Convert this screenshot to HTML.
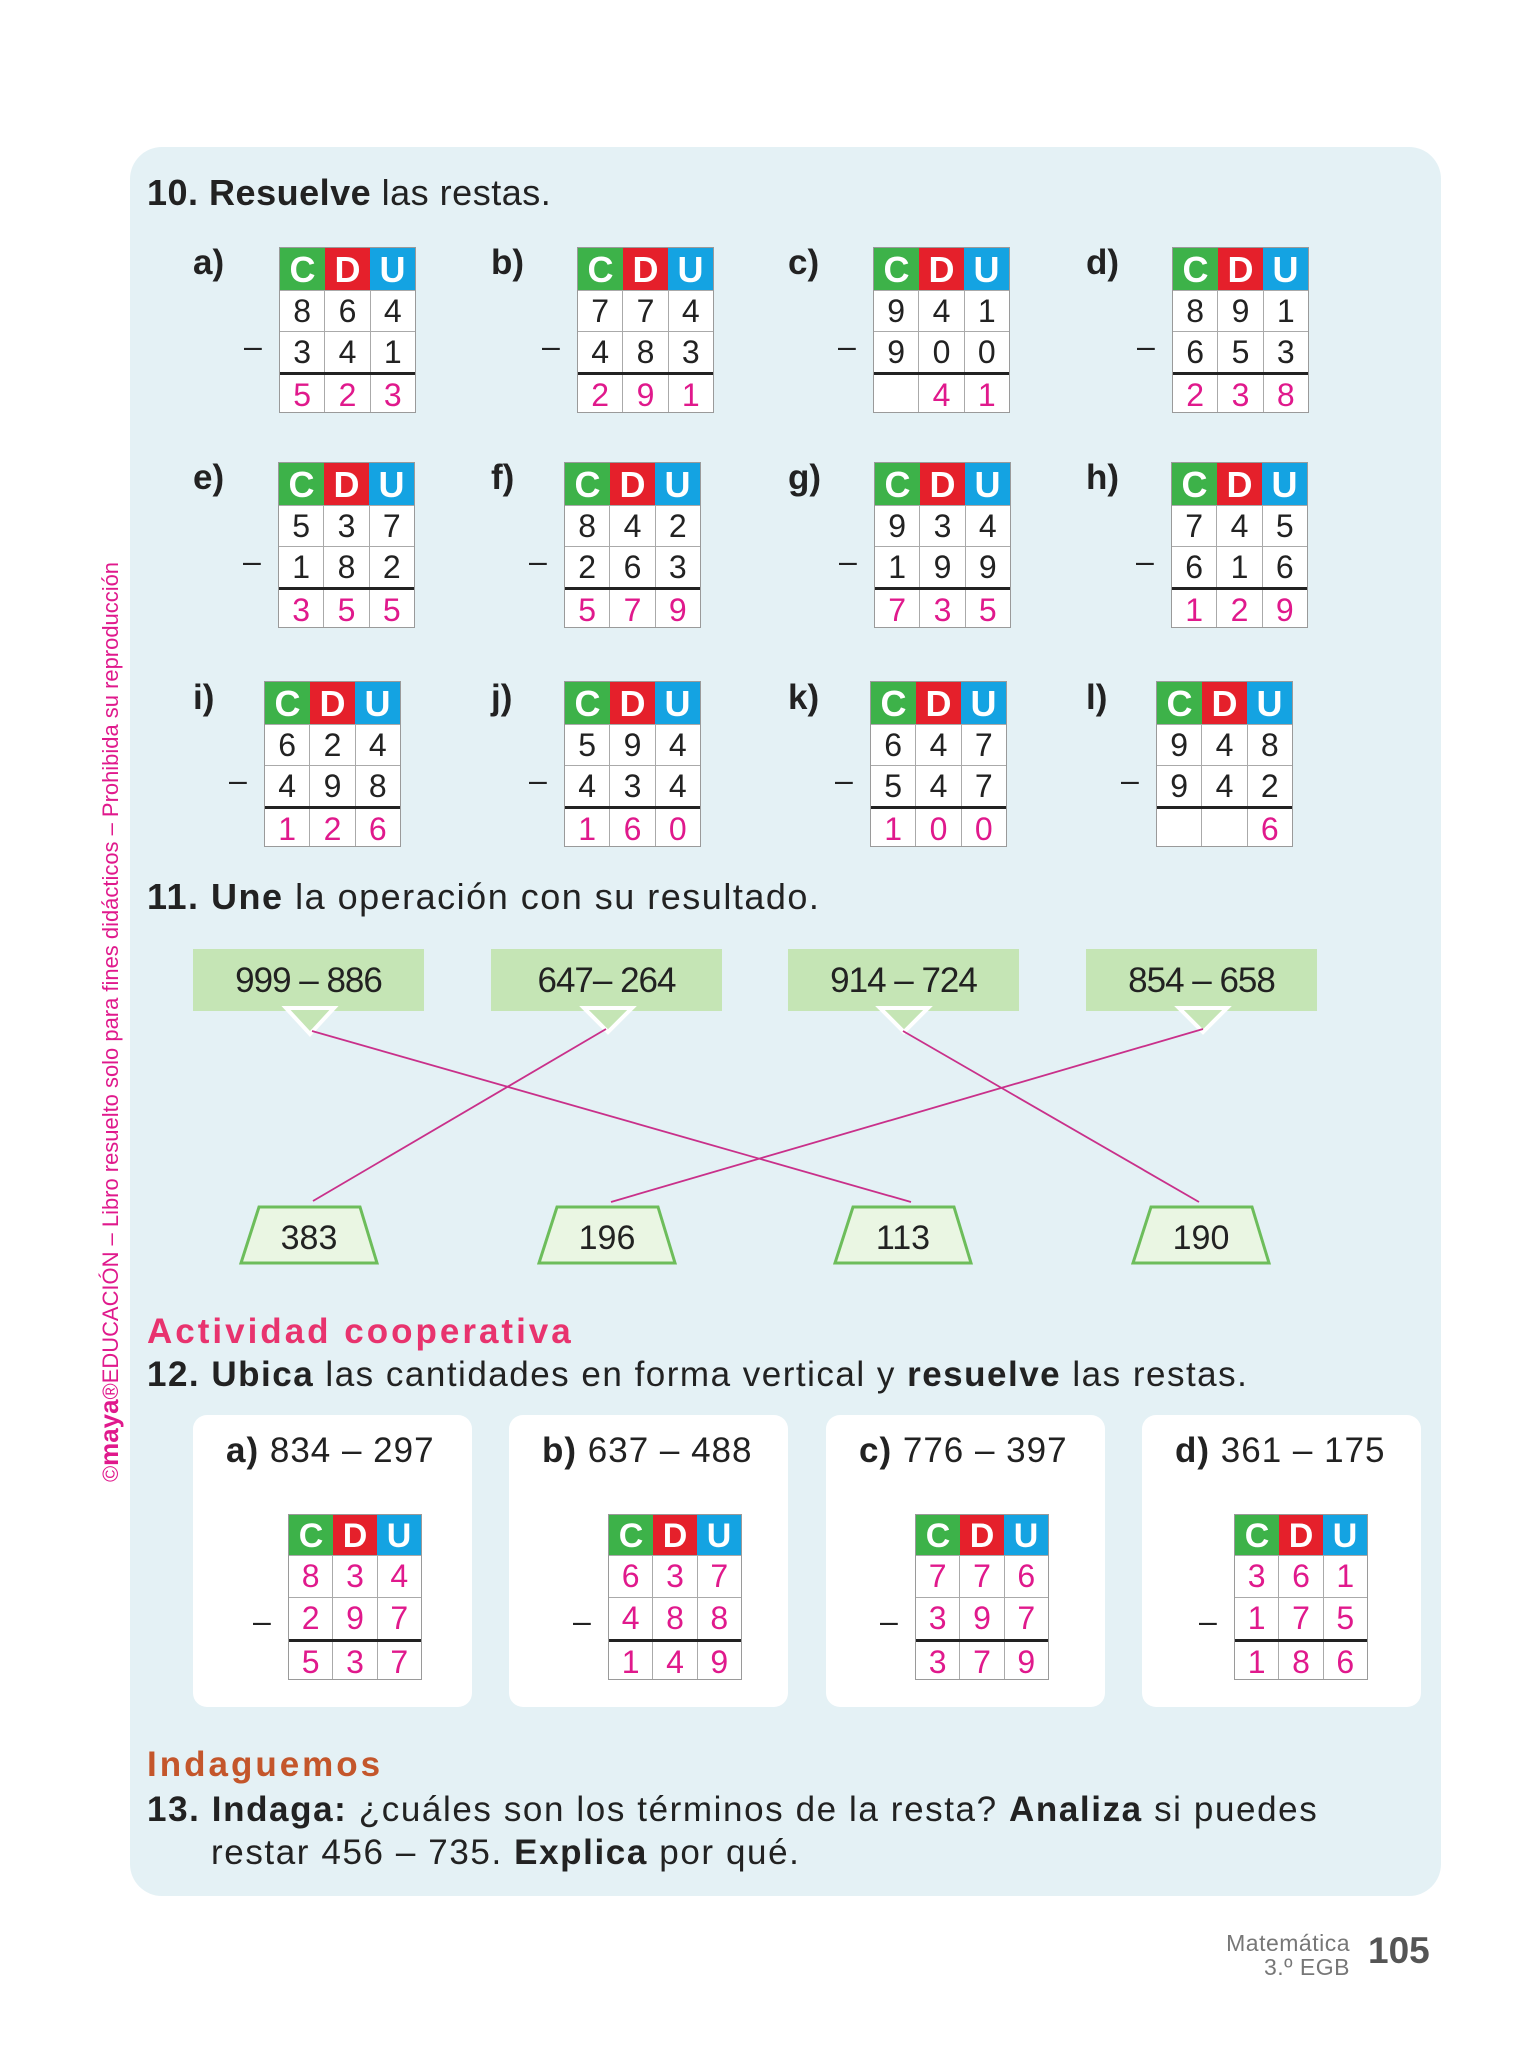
<!DOCTYPE html>
<html><head><meta charset="utf-8"><style>
*{margin:0;padding:0;box-sizing:border-box}
body{width:1536px;height:2048px;background:#fff;position:relative;overflow:hidden;font-family:"Liberation Sans",sans-serif;color:#222}
.p{position:absolute;left:130px;top:147px;width:1311px;height:1749px;background:#e4f1f5;border-radius:32px}
.a{position:absolute;white-space:nowrap}
.t{position:absolute;width:137px;background:#fff;border:1px solid #9a9a9a}
.t>div{display:flex;height:41px}
.t .h{height:42px}
.h b{flex:1;color:#fff;font-weight:bold;font-size:36px;text-align:center;line-height:44px}
.g{background:#3db249}.r{background:#e5202b}.b{background:#14a3e2}
.row{border-top:1px solid #aaa}
.row i{flex:1;font-style:normal;text-align:center;border-left:1px solid #aaa;font-size:32px;line-height:41px}
.row i:first-child{border-left:none}
.t .res{border-top:3px solid #222;color:#e0198c;height:40px}
.m{position:absolute;left:-36px;top:80px;font-size:32px}
.s{width:134px}
.s .h{height:40px}.s>div{height:42px}.s .h b{line-height:42px;font-size:34px}
.s .row{color:#e0198c}
.lb{position:absolute;font-weight:bold;font-size:35px}
.op{position:absolute;top:949px;width:231px;height:62px;background:#c5e5b5;font-size:35px;text-align:center;line-height:64px;letter-spacing:-1px}
.wb{position:absolute;top:1415px;width:279px;height:292px;background:#fff;border-radius:14px}
.wb .tt{position:absolute;left:33px;top:16px;font-size:35px;letter-spacing:1px}
</style></head><body>
<div class="p"></div>
<div class="a" style="left:147px;top:172px;font-size:36px;letter-spacing:0.5px"><b>10. Resuelve</b> las restas.</div>

<div class="lb" style="left:193px;top:243px">a)</div><div class="lb" style="left:491px;top:243px">b)</div><div class="lb" style="left:788px;top:243px">c)</div><div class="lb" style="left:1086px;top:243px">d)</div>
<div class="lb" style="left:193px;top:458px">e)</div><div class="lb" style="left:491px;top:458px">f)</div><div class="lb" style="left:788px;top:458px">g)</div><div class="lb" style="left:1086px;top:458px">h)</div>
<div class="lb" style="left:193px;top:678px">i)</div><div class="lb" style="left:491px;top:678px">j)</div><div class="lb" style="left:788px;top:678px">k)</div><div class="lb" style="left:1086px;top:678px">l)</div>

<div class="t" style="left:279px;top:247px"><span class="m">–</span><div class="h"><b class="g">C</b><b class="r">D</b><b class="b">U</b></div><div class="row"><i>8</i><i>6</i><i>4</i></div><div class="row"><i>3</i><i>4</i><i>1</i></div><div class="row res"><i>5</i><i>2</i><i>3</i></div></div>
<div class="t" style="left:577px;top:247px"><span class="m">–</span><div class="h"><b class="g">C</b><b class="r">D</b><b class="b">U</b></div><div class="row"><i>7</i><i>7</i><i>4</i></div><div class="row"><i>4</i><i>8</i><i>3</i></div><div class="row res"><i>2</i><i>9</i><i>1</i></div></div>
<div class="t" style="left:873px;top:247px"><span class="m">–</span><div class="h"><b class="g">C</b><b class="r">D</b><b class="b">U</b></div><div class="row"><i>9</i><i>4</i><i>1</i></div><div class="row"><i>9</i><i>0</i><i>0</i></div><div class="row res"><i>&nbsp;</i><i>4</i><i>1</i></div></div>
<div class="t" style="left:1172px;top:247px"><span class="m">–</span><div class="h"><b class="g">C</b><b class="r">D</b><b class="b">U</b></div><div class="row"><i>8</i><i>9</i><i>1</i></div><div class="row"><i>6</i><i>5</i><i>3</i></div><div class="row res"><i>2</i><i>3</i><i>8</i></div></div>

<div class="t" style="left:278px;top:462px"><span class="m">–</span><div class="h"><b class="g">C</b><b class="r">D</b><b class="b">U</b></div><div class="row"><i>5</i><i>3</i><i>7</i></div><div class="row"><i>1</i><i>8</i><i>2</i></div><div class="row res"><i>3</i><i>5</i><i>5</i></div></div>
<div class="t" style="left:564px;top:462px"><span class="m">–</span><div class="h"><b class="g">C</b><b class="r">D</b><b class="b">U</b></div><div class="row"><i>8</i><i>4</i><i>2</i></div><div class="row"><i>2</i><i>6</i><i>3</i></div><div class="row res"><i>5</i><i>7</i><i>9</i></div></div>
<div class="t" style="left:874px;top:462px"><span class="m">–</span><div class="h"><b class="g">C</b><b class="r">D</b><b class="b">U</b></div><div class="row"><i>9</i><i>3</i><i>4</i></div><div class="row"><i>1</i><i>9</i><i>9</i></div><div class="row res"><i>7</i><i>3</i><i>5</i></div></div>
<div class="t" style="left:1171px;top:462px"><span class="m">–</span><div class="h"><b class="g">C</b><b class="r">D</b><b class="b">U</b></div><div class="row"><i>7</i><i>4</i><i>5</i></div><div class="row"><i>6</i><i>1</i><i>6</i></div><div class="row res"><i>1</i><i>2</i><i>9</i></div></div>

<div class="t" style="left:264px;top:681px"><span class="m">–</span><div class="h"><b class="g">C</b><b class="r">D</b><b class="b">U</b></div><div class="row"><i>6</i><i>2</i><i>4</i></div><div class="row"><i>4</i><i>9</i><i>8</i></div><div class="row res"><i>1</i><i>2</i><i>6</i></div></div>
<div class="t" style="left:564px;top:681px"><span class="m">–</span><div class="h"><b class="g">C</b><b class="r">D</b><b class="b">U</b></div><div class="row"><i>5</i><i>9</i><i>4</i></div><div class="row"><i>4</i><i>3</i><i>4</i></div><div class="row res"><i>1</i><i>6</i><i>0</i></div></div>
<div class="t" style="left:870px;top:681px"><span class="m">–</span><div class="h"><b class="g">C</b><b class="r">D</b><b class="b">U</b></div><div class="row"><i>6</i><i>4</i><i>7</i></div><div class="row"><i>5</i><i>4</i><i>7</i></div><div class="row res"><i>1</i><i>0</i><i>0</i></div></div>
<div class="t" style="left:1156px;top:681px"><span class="m">–</span><div class="h"><b class="g">C</b><b class="r">D</b><b class="b">U</b></div><div class="row"><i>9</i><i>4</i><i>8</i></div><div class="row"><i>9</i><i>4</i><i>2</i></div><div class="row res"><i>&nbsp;</i><i>&nbsp;</i><i>6</i></div></div>

<div class="a" style="left:147px;top:876px;font-size:36px;letter-spacing:1.5px"><b>11. Une</b> la operación con su resultado.</div>
<div class="op" style="left:193px">999 – 886</div>
<div class="op" style="left:491px">647– 264</div>
<div class="op" style="left:788px">914 – 724</div>
<div class="op" style="left:1086px">854 – 658</div>

<svg class="a" style="left:0;top:0" width="1536" height="2048">
<g fill="#c5e5b5" stroke="#fff" stroke-width="4">
<polygon points="286,1008 334,1008 310,1034"/><polygon points="584,1008 632,1008 608,1032"/><polygon points="880,1008 928,1008 904,1032"/><polygon points="1179,1008 1227,1008 1203,1032"/>
</g>
<g stroke="#c9308a" stroke-width="1.8">
<line x1="312" y1="1031" x2="911" y2="1202"/>
<line x1="606" y1="1029" x2="313" y2="1201"/>
<line x1="903" y1="1031" x2="1199" y2="1202"/>
<line x1="1203" y1="1029" x2="611" y2="1202"/>
</g>
<g fill="#eaf6e3" stroke="#6dbd5b" stroke-width="3">
<polygon points="259,1207 360,1207 377,1263 241,1263"/>
<polygon points="557,1207 658,1207 675,1263 539,1263"/>
<polygon points="853,1207 954,1207 971,1263 835,1263"/>
<polygon points="1151,1207 1252,1207 1269,1263 1133,1263"/>
</g>
<g font-family="Liberation Sans, sans-serif" font-size="34" text-anchor="middle" fill="#222">
<text x="309" y="1249">383</text><text x="607" y="1249">196</text><text x="903" y="1249">113</text><text x="1201" y="1249">190</text>
</g>
<text transform="translate(118,1482) rotate(-90)" font-family="Liberation Sans Narrow, Liberation Sans, sans-serif" font-size="22" fill="#e0198c" textLength="920" lengthAdjust="spacingAndGlyphs">©<tspan font-weight="bold" font-size="26">maya</tspan>®EDUCACIÓN – Libro resuelto solo para fines didácticos – Prohibida su reproducción</text>
</svg>

<div class="a" style="left:147px;top:1312px;font-size:35px;font-weight:bold;color:#e8336e;letter-spacing:3px">Actividad cooperativa</div>
<div class="a" style="left:147px;top:1355px;font-size:35px;letter-spacing:1.5px"><b>12. Ubica</b> las cantidades en forma vertical y <b>resuelve</b> las restas.</div>

<div class="wb" style="left:193px"><div class="tt"><b>a)</b> 834 – 297</div></div>
<div class="wb" style="left:509px"><div class="tt"><b>b)</b> 637 – 488</div></div>
<div class="wb" style="left:826px"><div class="tt"><b>c)</b> 776 – 397</div></div>
<div class="wb" style="left:1142px"><div class="tt"><b>d)</b> 361 – 175</div></div>

<div class="t s" style="left:288px;top:1514px"><span class="m" style="top:88px;left:-36px">–</span><div class="h"><b class="g">C</b><b class="r">D</b><b class="b">U</b></div><div class="row"><i>8</i><i>3</i><i>4</i></div><div class="row"><i>2</i><i>9</i><i>7</i></div><div class="row res"><i>5</i><i>3</i><i>7</i></div></div>
<div class="t s" style="left:608px;top:1514px"><span class="m" style="top:88px;left:-36px">–</span><div class="h"><b class="g">C</b><b class="r">D</b><b class="b">U</b></div><div class="row"><i>6</i><i>3</i><i>7</i></div><div class="row"><i>4</i><i>8</i><i>8</i></div><div class="row res"><i>1</i><i>4</i><i>9</i></div></div>
<div class="t s" style="left:915px;top:1514px"><span class="m" style="top:88px;left:-36px">–</span><div class="h"><b class="g">C</b><b class="r">D</b><b class="b">U</b></div><div class="row"><i>7</i><i>7</i><i>6</i></div><div class="row"><i>3</i><i>9</i><i>7</i></div><div class="row res"><i>3</i><i>7</i><i>9</i></div></div>
<div class="t s" style="left:1234px;top:1514px"><span class="m" style="top:88px;left:-36px">–</span><div class="h"><b class="g">C</b><b class="r">D</b><b class="b">U</b></div><div class="row"><i>3</i><i>6</i><i>1</i></div><div class="row"><i>1</i><i>7</i><i>5</i></div><div class="row res"><i>1</i><i>8</i><i>6</i></div></div>

<div class="a" style="left:147px;top:1745px;font-size:35px;font-weight:bold;color:#c4562b;letter-spacing:3px">Indaguemos</div>
<div class="a" style="left:147px;top:1790px;font-size:35px;letter-spacing:1.6px"><b>13. Indaga:</b> ¿cuáles son los términos de la resta? <b>Analiza</b> si puedes</div>
<div class="a" style="left:211px;top:1833px;font-size:35px;letter-spacing:1.6px">restar 456 – 735. <b>Explica</b> por qué.</div>

<div class="a" style="right:186px;top:1931px;font-size:23px;color:#777;text-align:right;line-height:24px;letter-spacing:0.5px">Matemática<br>3.º EGB</div>
<div class="a" style="left:1368px;top:1930px;font-size:37px;font-weight:bold;color:#555">105</div>
</body></html>
